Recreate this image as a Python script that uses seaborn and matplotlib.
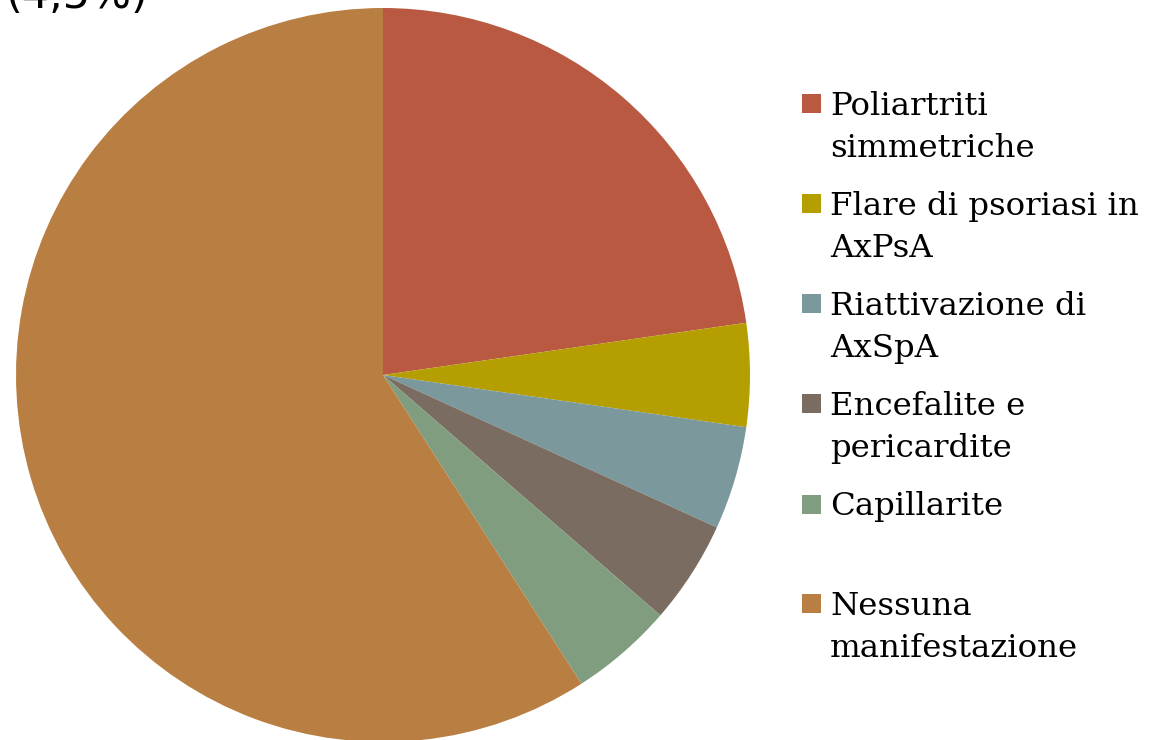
import matplotlib
matplotlib.use("Agg")
import matplotlib.pyplot as plt
import seaborn as sns
from matplotlib.patches import Rectangle

sns.set_theme(style="white")
plt.rcParams['font.family'] = ['DejaVu Serif']

categories = ["Poliartriti simmetriche", "Flare di psoriasi in AxPsA", "Riattivazione di AxSpA",
              "Encefalite e pericardite", "Capillarite", "Nessuna manifestazione"]
legend_lines = [["Poliartriti", "simmetriche"], ["Flare di psoriasi in", "AxPsA"],
                ["Riattivazione di", "AxSpA"], ["Encefalite e", "pericardite"],
                ["Capillarite"], ["Nessuna", "manifestazione"]]
values = [5, 1, 1, 1, 1, 13]
colors = ["#BA5942", "#B59E00", "#7B999C", "#7A6C61", "#809E7F", "#B97F42"]
clipped_label = "(4,5%)"

W, H = 1155, 740
fig = plt.figure(figsize=(W / 100, H / 100), dpi=100)
ax = fig.add_axes([0, 0, 1, 1])
ax.pie(values, colors=colors, startangle=90, counterclock=False,
       center=(383, H - 375), radius=367, wedgeprops=dict(linewidth=0))
ax.set_xlim(0, W)
ax.set_ylim(0, H)
ax.set_aspect('equal')
ax.axis('off')

def fx(x):
    return x / W

def fy(y):
    return 1 - y / H

sq_centers = [103.5, 203.5, 303.5, 403.5, 504, 603.5]
for lines, c, yc in zip(legend_lines, colors, sq_centers):
    fig.patches.append(Rectangle((fx(802), fy(yc + 9.5)), 19 / W, 19 / H,
                                 transform=fig.transFigure, facecolor=c, edgecolor='none'))
    base = yc + 11.5
    for i, t in enumerate(lines):
        fig.text(fx(830), fy(base + 42 * i), t, fontsize=23.3, va='baseline', ha='left',
                 color='black')

fig.text(fx(5), fy(8), clipped_label, fontsize=31, va='baseline', ha='left',
         family='DejaVu Sans', color='black')

fig.savefig("out.png", dpi=100)
